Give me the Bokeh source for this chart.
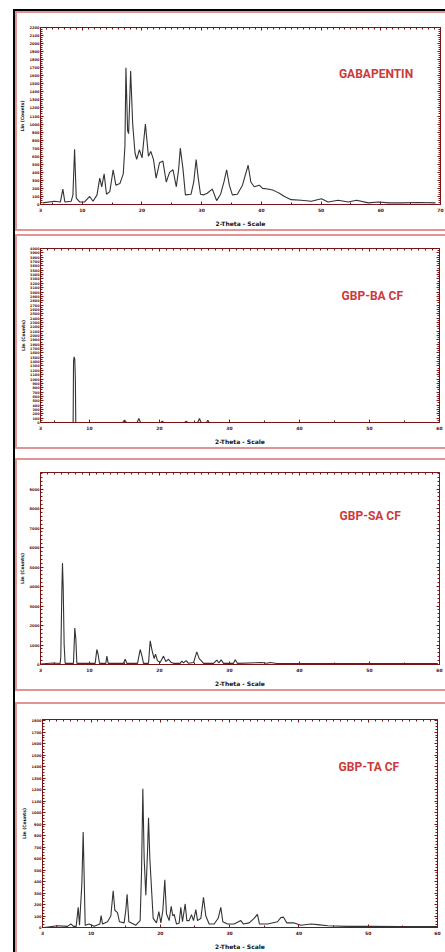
from bokeh.plotting import figure
from bokeh.layouts import column, row
from bokeh.models import FixedTicker, LinearAxis, Label, Range1d, Div, Spacer
from bokeh.embed import file_html
from bokeh.resources import INLINE

# ---------------- data (2-Theta, counts) ----------------
gaba_x = [3.36, 5.33, 6.34, 6.74, 7.08, 8.14, 8.43, 8.71, 8.99, 9.55, 10.39, 11.24, 11.80,
          12.47, 12.92, 13.26, 13.66, 14.05, 14.61, 15.17, 15.62, 16.30, 16.86, 17.14, 17.31,
          17.59, 17.76, 18.10, 18.44, 18.83, 19.11, 19.56, 20.01, 20.57, 21.08, 21.47, 21.92,
          22.37, 22.94, 23.50, 24.06, 24.62, 25.19, 25.75, 26.14, 26.42, 26.87, 27.27, 28.22,
          28.67, 29.07, 29.40, 29.80, 30.36, 30.92, 31.77, 32.50, 33.17, 33.73, 34.18, 34.63,
          35.14, 35.98, 36.83, 37.78, 38.23, 38.80, 39.64, 40.20, 41.05, 41.89, 42.45, 43.01,
          43.86, 44.98, 46.67, 48.36, 50.05, 51.17, 52.86, 54.55, 55.95, 57.92, 59.61, 61.29,
          63.54, 66.36, 69.17]
gaba_y = [20, 40, 32, 192, 32, 40, 120, 688, 80, 32, 32, 100, 40,
          120, 328, 220, 380, 128, 160, 432, 240, 260, 380, 720, 1700,
          920, 880, 1660, 1000, 640, 560, 680, 580, 1000, 600, 660, 560,
          328, 520, 540, 280, 400, 432, 220, 440, 700, 440, 120, 128,
          280, 560, 340, 128, 120, 140, 192, 48, 128, 280, 432, 240,
          120, 128, 240, 488, 280, 220, 240, 200, 192, 180, 160, 140,
          100, 60, 52, 40, 72, 32, 52, 32, 52, 20, 32, 20,
          20, 24, 20]

ba_x = [3.0, 7.62, 7.66, 7.72, 7.80, 7.90, 7.98, 8.04, 14.7, 15.0, 15.3, 16.8, 17.05, 17.3,
        20.2, 20.38, 20.6, 23.6, 23.81, 24.0, 25.45, 25.71, 25.95, 26.7, 26.9, 27.1, 60.0]
ba_y = [0, 0, 0, 1400, 1510, 1450, 1000, 0, 0, 53, 0, 0, 90, 0,
        0, 30, 0, 0, 30, 0, 0, 90, 0, 0, 53, 0, 0]

sa_x = [3.0, 3.9, 4.86, 5.81, 5.90, 6.05, 6.14, 6.24, 6.38, 6.52, 7.71, 7.81, 7.90, 8.05,
        8.19, 10.81, 11.05, 11.24, 11.43, 12.33, 12.48, 12.67, 14.86, 15.10, 15.33, 16.86,
        17.24, 17.52, 17.71, 18.43, 18.67, 18.95, 19.24, 19.43, 19.71, 20.10, 20.57, 20.90,
        21.29, 21.62, 22.00, 22.95, 23.19, 23.43, 23.81, 24.14, 24.86, 25.33, 25.67, 25.95,
        26.29, 27.71, 28.19, 28.48, 28.81, 29.14, 30.57, 30.81, 31.14, 34.62, 35.33, 35.81,
        36.76, 40.10, 44.86, 49.60, 54.40, 59.76]
sa_y = [20, 50, 80, 50, 400, 3800, 5200, 4000, 1000, 60, 60, 1000, 1870, 1300,
        60, 60, 770, 500, 60, 60, 430, 60, 60, 270, 60, 60,
        770, 400, 60, 60, 1210, 700, 300, 530, 200, 100, 430, 150,
        270, 120, 60, 60, 170, 80, 200, 60, 100, 650, 300, 200,
        60, 60, 230, 80, 240, 60, 60, 240, 60, 100, 60, 100,
        50, 50, 50, 50, 50, 50]

ta_x = [3.24, 5.16, 6.61, 7.09, 7.47, 7.86, 8.15, 8.34, 8.68, 8.87, 9.01, 9.16, 9.73, 10.46,
        11.27, 11.46, 11.66, 12.38, 12.86, 13.20, 13.44, 13.82, 14.11, 14.78, 15.02, 15.21,
        15.46, 16.47, 17.09, 17.29, 17.48, 17.67, 17.91, 18.15, 18.30, 18.49, 18.73, 18.97,
        19.45, 19.79, 20.08, 20.37, 20.65, 20.89, 21.28, 21.57, 21.81, 22.00, 22.34, 22.72,
        22.96, 23.20, 23.59, 23.83, 24.16, 24.50, 24.79, 25.13, 25.37, 25.85, 26.23, 26.57,
        27.05, 27.77, 28.35, 28.73, 29.02, 29.69, 30.66, 31.62, 32.00, 32.82, 33.54, 34.02,
        34.31, 35.47, 36.91, 37.39, 37.78, 38.26, 39.32, 40.28, 41.72, 42.68, 44.13, 47.01,
        49.90, 54.71, 60.0]
ta_y = [0, 15, 10, 32, 10, 10, 176, 20, 380, 830, 450, 20, 30, 10,
        30, 104, 30, 50, 100, 320, 150, 130, 50, 40, 150, 290,
        50, 20, 60, 480, 1207, 600, 280, 650, 955, 600, 340, 80,
        40, 138, 40, 150, 415, 120, 60, 184, 100, 115, 30, 40,
        176, 50, 205, 60, 60, 112, 60, 156, 60, 80, 262, 100,
        30, 30, 80, 176, 50, 30, 30, 60, 30, 40, 80, 115,
        30, 30, 50, 86, 90, 40, 40, 20, 30, 25, 15, 10,
        10, 8, 8]

titles = ["GABAPENTIN", "GBP-BA CF", "GBP-SA CF", "GBP-TA CF"]
x_major_70 = [3, 10, 20, 30, 40, 50, 60, 70]
x_major_60 = [3, 10, 20, 30, 40, 50, 60]

AX = "#7a1414"
LBL = "#5a0a0a"
PINK = "#e09494"
TRACE = "#333333"
FW = 428  # figure width


def bar(w, h, color):
    return Div(text="", width=w, height=h,
               styles={"background-color": color, "margin": "0", "padding": "0"})


def panel(xs, ys, xmax, ymax, xticks, yticks, yminor, title, tx, ty,
          h, borders, lbl_size):
    p = figure(width=FW, height=h, output_backend="svg", toolbar_location=None,
               x_range=Range1d(3, xmax), y_range=Range1d(0, ymax),
               x_axis_type=None, y_axis_type=None,
               min_border_left=borders[0], min_border_right=borders[1],
               min_border_top=borders[2], min_border_bottom=borders[3],
               background_fill_color="white", border_fill_color="white")
    p.outline_line_color = AX
    p.outline_line_width = 1

    xminor_b = [v for v in range(5, int(xmax), 5) if v % 10]
    xminor_t = list(range(4, int(xmax)))

    def style_axis(a, labels, size):
        a.axis_line_color = AX
        a.major_tick_line_color = AX
        a.minor_tick_line_color = AX
        a.major_tick_in = 3
        a.major_tick_out = 0
        a.minor_tick_in = 2
        a.minor_tick_out = 0
        a.major_label_standoff = 1
        if labels:
            a.major_label_text_font = "DejaVu Sans"
            a.major_label_text_font_size = size
            a.major_label_text_font_style = "bold"
            a.major_label_text_color = LBL
        else:
            a.major_label_text_color = None

    xb = LinearAxis(ticker=FixedTicker(ticks=xticks, minor_ticks=xminor_b),
                    axis_label="2-Theta - Scale")
    style_axis(xb, True, "4.5px")
    xb.major_label_standoff = 3
    xb.axis_label_text_font = "DejaVu Sans"
    xb.axis_label_text_font_size = "6px"
    xb.axis_label_text_font_style = "bold"
    xb.axis_label_text_color = "#111111"
    xb.axis_label_standoff = 5
    p.add_layout(xb, "below")

    xt = LinearAxis(ticker=FixedTicker(ticks=xticks, minor_ticks=xminor_t))
    style_axis(xt, False, "5px")
    p.add_layout(xt, "above")

    yl = LinearAxis(ticker=FixedTicker(ticks=yticks, minor_ticks=yminor),
                    axis_label="Lin (Counts)")
    style_axis(yl, True, lbl_size)
    yl.axis_label_text_font = "DejaVu Sans"
    yl.axis_label_text_font_size = "4.5px"
    yl.axis_label_text_font_style = "bold"
    yl.axis_label_text_color = "#111111"
    yl.axis_label_standoff = 1
    p.add_layout(yl, "left")

    yr = LinearAxis(ticker=FixedTicker(ticks=yticks, minor_ticks=yminor))
    style_axis(yr, False, lbl_size)
    p.add_layout(yr, "right")

    p.line(xs, ys, line_color=TRACE, line_width=1.1)

    p.add_layout(Label(x=tx, y=ty, text=title, text_align="center",
                       text_baseline="middle", text_color="#cc3a3a",
                       text_font="Roboto", text_font_size="12px",
                       text_font_style="bold"))
    return p


def framed(p, h, bottom=True):
    parts = [bar(FW + 2, 2, PINK), row(bar(2, h, PINK), p, spacing=0)]
    if bottom:
        parts.append(bar(FW + 2, 2, PINK))
    return column(*parts, spacing=0)


p1 = panel(gaba_x, gaba_y, 70, 2200, x_major_70, list(range(0, 2201, 100)),
           list(range(0, 2201, 25)), titles[0], 59.2, 1623,
           216, (23, 5, 14, 19), "3.6px")
p2 = panel(ba_x, ba_y, 60, 4000, x_major_60, list(range(0, 4001, 100)),
           list(range(0, 4001, 50)), titles[1], 50.4, 2905,
           211, (23, 6, 12, 20), "3.4px")
p3 = panel(sa_x, sa_y, 60, 9850, x_major_60, list(range(0, 9001, 1000)),
           list(range(0, 9851, 200)), titles[2], 50.1, 7593,
           229, (23, 6, 12, 25), "3.6px")
p4 = panel(ta_x, ta_y, 60, 1810, x_major_60, list(range(0, 1801, 100)),
           list(range(0, 1810, 25)), titles[3], 50.1, 1398,
           248, (25, 8, 15, 23), "3.6px")

panels = column(framed(p1, 216), Spacer(width=10, height=3),
                framed(p2, 211), Spacer(width=10, height=9),
                framed(p3, 229), Spacer(width=10, height=11),
                framed(p4, 248, bottom=False), spacing=0)

right_part = column(bar(FW + 4, 2, "#000000"),
                    row(bar(2, 941, "#000000"), panels, spacing=0), spacing=0)
layout = column(Spacer(width=10, height=9),
                row(Spacer(width=13, height=10), right_part, spacing=0), spacing=0)

open("out.html", "w").write(file_html(layout, INLINE))
